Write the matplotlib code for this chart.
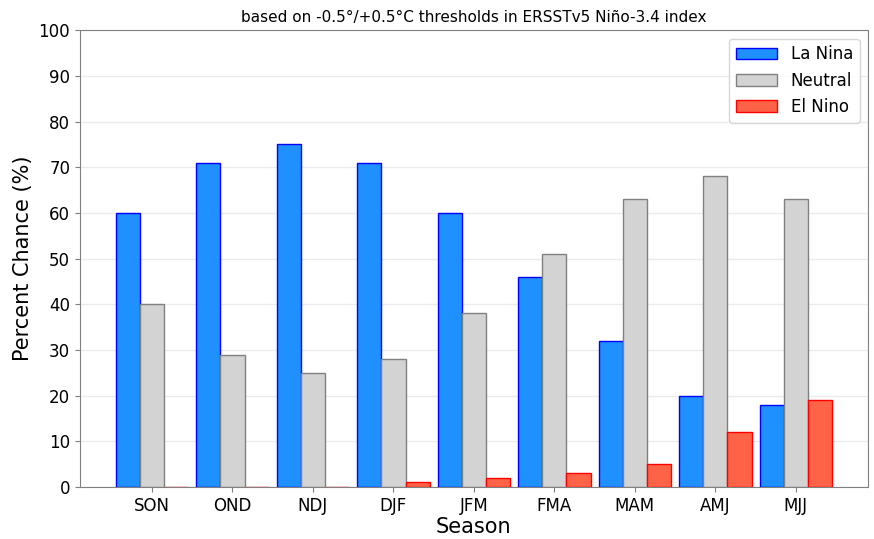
import numpy as np
import matplotlib
matplotlib.use("Agg")
import matplotlib.pyplot as plt

seasons = ["SON", "OND", "NDJ", "DJF", "JFM", "FMA", "MAM", "AMJ", "MJJ"]
la_nina = [60, 71, 75, 71, 60, 46, 32, 20, 18]
neutral = [40, 29, 25, 28, 38, 51, 63, 68, 63]
el_nino = [0, 0, 0, 1, 2, 3, 5, 12, 19]

fig = plt.figure(figsize=(8.74, 5.39), dpi=100)
ax = fig.add_axes([0.0915, 0.0965, 0.9015, 0.8475])

x = np.arange(len(seasons))
w = 0.3
ax.bar(x - w, la_nina, w, color="dodgerblue", edgecolor="blue", linewidth=1, label="La Nina", zorder=3)
ax.bar(x, neutral, w, color="lightgray", edgecolor="gray", linewidth=1, label="Neutral", zorder=3)
ax.bar(x + w, el_nino, w, color="tomato", edgecolor="red", linewidth=1, label="El Nino", zorder=3)

ax.set_ylim(0, 100)
ax.set_yticks(np.arange(0, 101, 10))
ax.set_xticks(x)
ax.set_xticklabels(seasons)
ax.tick_params(axis="both", labelsize=12, color="gray")
ax.yaxis.grid(True, color="#ebebeb", linewidth=1, zorder=0)
ax.set_axisbelow(True)
for s in ax.spines.values():
    s.set_color("gray")

ax.set_xlabel("Season", fontsize=15, labelpad=2)
ax.set_ylabel("Percent Chance (%)", fontsize=15)
ax.set_title("based on -0.5°/+0.5°C thresholds in ERSSTv5 Niño-3.4 index", fontsize=11, pad=6)

ax.legend(loc="upper right", fontsize=12, handlelength=2.5)

fig.savefig("out.png", dpi=100)
